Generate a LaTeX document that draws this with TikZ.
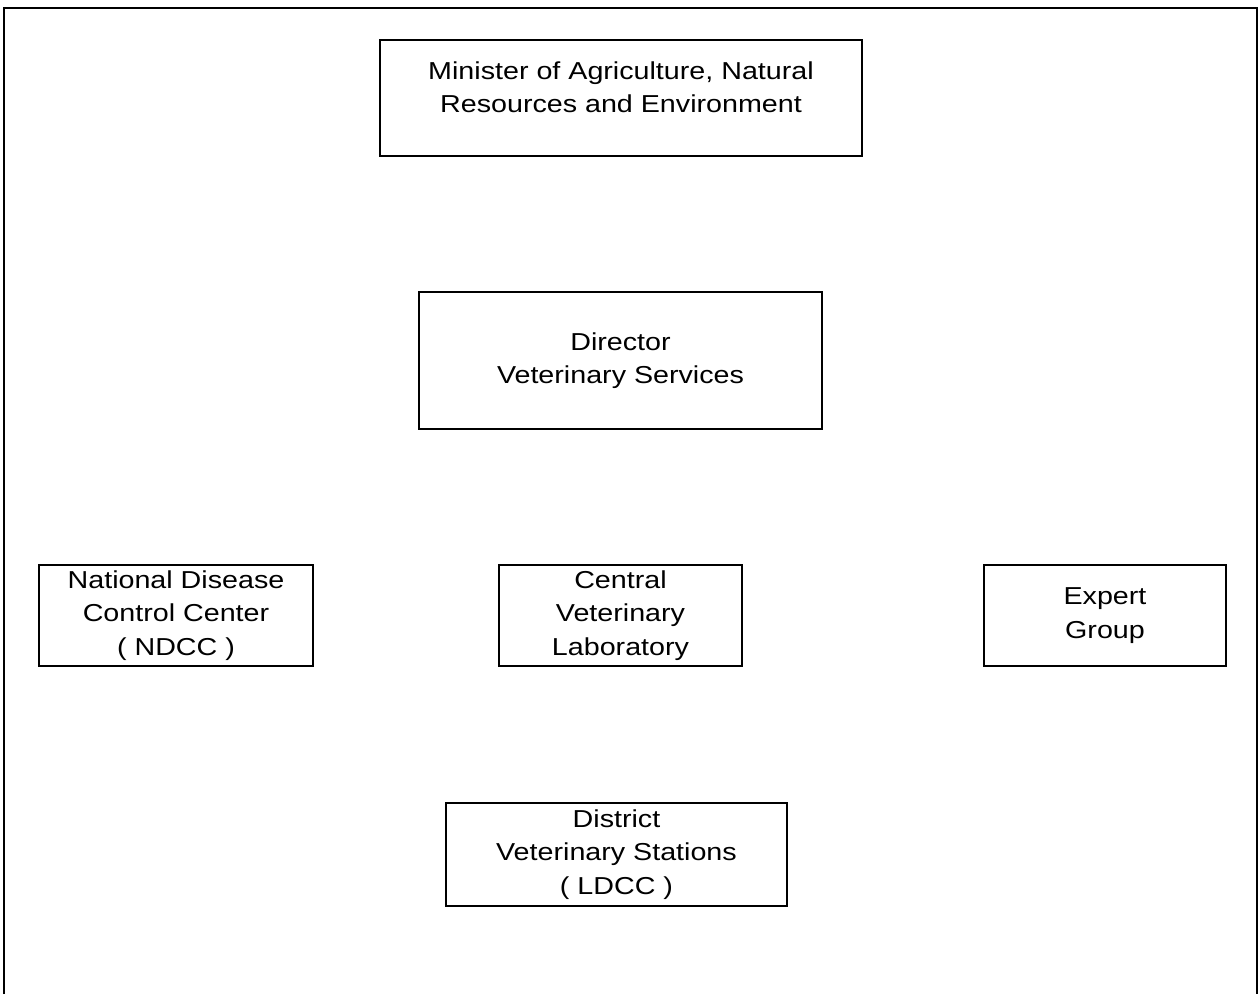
\documentclass[tikz,border=0pt]{standalone}
\usepackage{fontspec}
\setmainfont{Liberation Sans}[FakeStretch=1.17]
\tikzset{
	unit/.style = {draw, line width=1.6pt, align=center, inner sep=0pt,
		font=\fontsize{24.5}{33.5}\selectfont}
}
\begin{document}
\begin{tikzpicture}[x=1pt, y=-1pt]
	\useasboundingbox (0,0) rectangle (1259,994);
	\draw[line width=1.6pt] (4,994) -- (4,8) -- (1257,8) -- (1257,994);
	\node (MIN) at (621,  98)	[unit, minimum width=482pt, minimum height=116pt, text depth=22pt]	{Minister of Agriculture, Natural\\Resources and Environment};
	\node (DVS) at (620.5, 360.5)	[unit, minimum width=403pt, minimum height=137pt]	{Director\\Veterinary Services};
	\node (NDCC) at (176, 615.5)	[unit, minimum width=274pt, minimum height=101pt]	{National Disease\\Control Center\\( NDCC )};
	\node (CVL) at (620.5, 615.5)	[unit, minimum width=243pt, minimum height=101pt]	{Central\\Veterinary\\Laboratory};
	\node (EXP) at (1105, 615.5)	[unit, minimum width=242pt, minimum height=101pt]	{Expert\\Group};
	\node (DVST) at (616.5, 854.5)	[unit, minimum width=341pt, minimum height=103pt]	{District\\Veterinary Stations\\( LDCC )};
\end{tikzpicture}
\end{document}
